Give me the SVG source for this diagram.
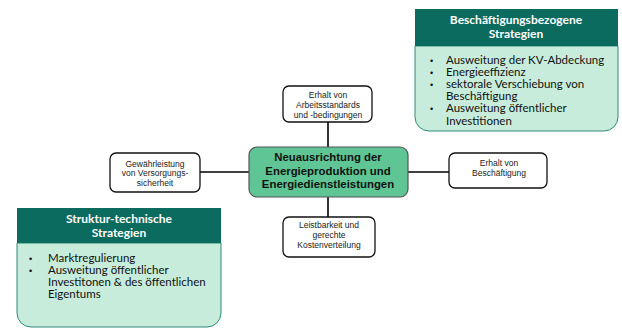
<svg xmlns="http://www.w3.org/2000/svg" width="622" height="329" viewBox="0 0 622 329">
<style>
.node{fill:#ffffff;stroke:#111111;stroke-width:1.3}
.nt{font-family:"Liberation Sans",Arial,sans-serif;font-size:8.5px;fill:#222222;text-anchor:middle}
.ct{font-family:"Liberation Sans",Arial,sans-serif;font-size:11.4px;font-weight:bold;fill:#111111;text-anchor:middle}
.hdr{fill:#0b6b5f}
.body{fill:#c8ecdb;stroke:#2f8a78;stroke-width:1}
.ht{font-family:Lato,"Open Sans",sans-serif;font-size:12px;font-weight:bold;fill:#ffffff;text-anchor:middle}
.bt{font-family:Lato,"Open Sans",sans-serif;font-size:11.5px;fill:#111111}
.bl{font-family:"Liberation Sans",Arial,sans-serif;font-size:9px;fill:#111111}
.con{stroke:#000000;stroke-width:1.6;fill:none}
</style>
<g id="connectors">
<line class="con" x1="328" y1="122" x2="328" y2="147"/>
<line class="con" x1="328" y1="197" x2="328" y2="217"/>
<line class="con" x1="200" y1="172" x2="249" y2="172"/>
<line class="con" x1="408" y1="172" x2="449" y2="172"/>
</g>
<g id="center">
<rect x="249" y="147" width="159" height="50" rx="8" fill="#5fc594" stroke="#555555" stroke-width="1.2"/>
<text class="ct" x="328" y="161">Neuausrichtung der</text>
<text class="ct" x="328" y="174.5">Energieproduktion und</text>
<text class="ct" x="328" y="188">Energiedienstleistungen</text>
</g>
<g id="node-top">
<rect class="node" x="283" y="86" width="89" height="36" rx="6"/>
<text class="nt" x="328" y="98.3">Erhalt von</text>
<text class="nt" x="328" y="108">Arbeitsstandards</text>
<text class="nt" x="328" y="117.7">und -bedingungen</text>
</g>
<g id="node-bottom">
<rect class="node" x="283" y="217" width="92" height="40" rx="6"/>
<text class="nt" x="329" y="228">Leistbarkeit und</text>
<text class="nt" x="329" y="237.7">gerechte</text>
<text class="nt" x="329" y="247.5">Kostenverteilung</text>
</g>
<g id="node-left">
<rect class="node" x="110" y="153" width="90" height="39" rx="6"/>
<text class="nt" x="155" y="166.7">Gewährleistung</text>
<text class="nt" x="155" y="176.4">von Versorgungs-</text>
<text class="nt" x="155" y="186">sicherheit</text>
</g>
<g id="node-right">
<rect class="node" x="449" y="153" width="98" height="35" rx="6"/>
<text class="nt" x="499" y="166">Erhalt von</text>
<text class="nt" x="499" y="175.5">Beschäftigung</text>
</g>
<g id="strategy-employment">
<path class="body" d="M415,46 H618 V117 A14,14 0 0 1 604,131 H429 A14,14 0 0 1 415,117 Z"/>
<rect class="hdr" x="415" y="9" width="203" height="37"/>
<text class="ht" x="516" y="24">Beschäftigungsbezogene</text>
<text class="ht" x="516" y="37.5">Strategien</text>
<g>
<text class="bl" x="430" y="64">•</text><text class="bt" x="446" y="64">Ausweitung der KV-Abdeckung</text>
<text class="bl" x="430" y="75.5">•</text><text class="bt" x="446" y="75.5">Energieeffizienz</text>
<text class="bl" x="430" y="87.5">•</text><text class="bt" x="446" y="87.5">sektorale Verschiebung von</text>
<text class="bt" x="446" y="99.5">Beschäftigung</text>
<text class="bl" x="430" y="112">•</text><text class="bt" x="446" y="112">Ausweitung öffentlicher</text>
<text class="bt" x="446" y="124.5">Investitionen</text>
</g>
</g>
<g id="strategy-structural">
<path class="body" d="M17,243 H221 V313 A14,14 0 0 1 207,327 H31 A14,14 0 0 1 17,313 Z"/>
<rect class="hdr" x="17" y="208" width="204" height="35"/>
<text class="ht" x="119" y="223">Struktur-technische</text>
<text class="ht" x="119" y="236.5">Strategien</text>
<g>
<text class="bl" x="29" y="262">•</text><text class="bt" x="48" y="262">Marktregulierung</text>
<text class="bl" x="29" y="274">•</text><text class="bt" x="48" y="274">Ausweitung öffentlicher</text>
<text class="bt" x="48" y="286">Investitonen &amp; des öffentlichen</text>
<text class="bt" x="48" y="298">Eigentums</text>
</g>
</g>
</svg>
